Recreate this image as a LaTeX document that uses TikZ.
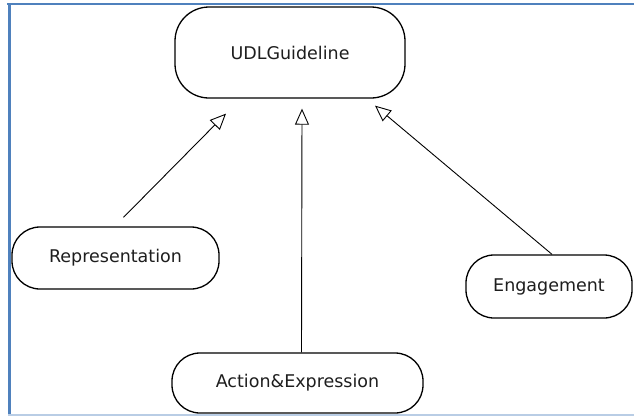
\documentclass[tikz,border=0pt]{standalone}
\usepackage{fontspec}
\setmainfont{DejaVu Sans}
\usetikzlibrary{arrows.meta,calc}
\definecolor{framemain}{HTML}{4F81BD}
\definecolor{framelight}{HTML}{B9CDE5}
\definecolor{inkgray}{HTML}{1E1E1E}
\tikzset{
  usecase/.style={draw=black, line width=1.3pt, fill=white, rounded corners=28pt,
    inner sep=0pt, text=inkgray, font=\fontsize{17.5}{20}\selectfont},
  generalize/.style={draw=black, line width=0.9pt,
    -{Triangle[open, length=16pt, width=14pt, fill=white]}},
}
\begin{document}
\begin{tikzpicture}[x=1pt, y=-1pt]
  \useasboundingbox (0,0) rectangle (634,416);
  \fill[white] (0,0) rectangle (634,416);
  % window frame
  \draw[framemain, line width=2.2pt] (7,4) -- (634,4);
  \draw[framemain, line width=2.6pt] (9.5,3) -- (9.5,416);
  \draw[framelight, line width=2pt] (8,414.5) -- (634,414.5);

  % use cases
  \node[usecase, rounded corners=34pt, minimum width=230pt, minimum height=91pt]
    (udl) at (290,52.5) {UDLGuideline};
  \node[usecase, minimum width=207pt, minimum height=62pt]
    (rep) at (115.5,258) {Representation};
  \node[usecase, minimum width=166pt, minimum height=63pt]
    (eng) at (549,286.5) {Engagement};
  \node[usecase, minimum width=251pt, minimum height=60pt]
    (act) at (297.5,383) {Action\&Expression};

  % generalization links
  \draw[generalize] ($(rep.north)+(8,-9)$) -- ($(udl.south)+(-64,15)$);
  \draw[generalize] ($(act.north)+(4,0)$) -- ($(udl.south)+(12,10)$);
  \draw[generalize] ($(eng.north)+(3,0)$) -- ($(udl.south)+(85,7)$);
\end{tikzpicture}
\end{document}
